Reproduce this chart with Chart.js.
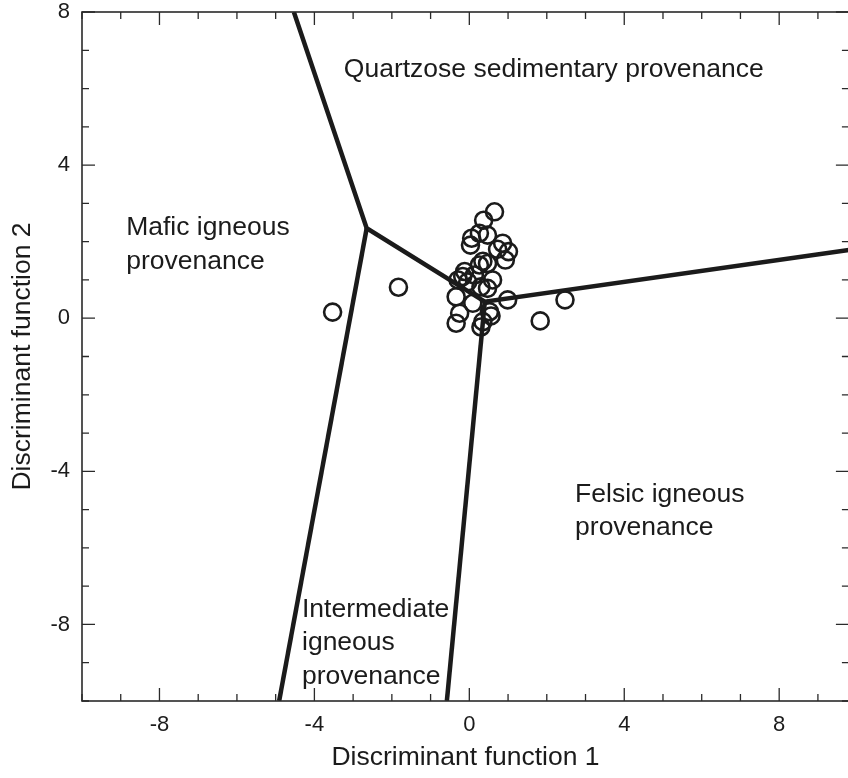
<!DOCTYPE html>
<html>
<head>
<meta charset="utf-8">
<script src="https://cdn.jsdelivr.net/npm/chart.js@4.4.0/dist/chart.umd.min.js"></script>
<style>
  html, body { margin: 0; padding: 0; background: #fff; overflow: hidden; }
  canvas { display: block; }
</style>
</head>
<body>
<canvas id="chart" width="860" height="778"></canvas>
<script>
// sample scores on discriminant functions 1 and 2
const df1 = [-3.53, -1.83, 1.83, 2.47, 0.99, 0.65, 0.37, 0.06, 0.47, 0.26, 0.03, 0.86,
             0.73, 1.01, 0.93, 0.35, 0.26, -0.12, -0.17, 0.13, 0.60, -0.04, 0.47, 0.30,
             -0.34, 0.09, 0.52, -0.25, -0.34, 0.35, 0.30, 0.56, -0.29, 0.47];
const df2 = [0.16, 0.81, -0.07, 0.48, 0.48, 2.78, 2.56, 2.09, 2.17, 2.22, 1.91, 1.96,
             1.80, 1.74, 1.52, 1.49, 1.39, 1.22, 1.09, 1.13, 1.00, 0.95, 0.78, 0.82,
             0.56, 0.39, 0.17, 0.13, -0.13, -0.09, -0.23, 0.06, 1.00, 1.43];

// provenance field boundaries (df1, df2 vertices)
const boundaryMain = [[-4.53, 8], [-2.65, 2.35], [0.40, 0.43], [9.8, 1.78]];
const boundaryMafic = [[-2.65, 2.35], [-4.91, -10]];
const boundaryFelsic = [[0.40, 0.43], [-0.58, -10]];

const xTicks = [-8, -4, 0, 4, 8];
const yTicks = [-8, -4, 0, 4, 8];

const fieldNames = [
  ['Quartzose sedimentary provenance'],
  ['Mafic igneous', 'provenance'],
  ['Felsic igneous', 'provenance'],
  ['Intermediate', 'igneous', 'provenance']
];

const ink = '#1b1b1b';
const FONT = "'Liberation Sans', Arial, sans-serif";

const toXY = pts => pts.map(p => ({ x: p[0], y: p[1] }));

// where each field name goes: left edge and middle of first line, in data units
const labelAnchors = [[-3.24, 6.48], [-8.86, 2.36], [2.73, -4.61], [-4.32, -7.61]];

const fieldLabels = {
  id: 'fieldLabels',
  afterDatasetsDraw(chart) {
    const { ctx, scales: { x, y } } = chart;
    ctx.save();
    ctx.font = '26.5px ' + FONT;
    ctx.fillStyle = ink;
    ctx.textAlign = 'left';
    ctx.textBaseline = 'middle';
    fieldNames.forEach((lines, i) => {
      const px = x.getPixelForValue(labelAnchors[i][0]);
      const py = y.getPixelForValue(labelAnchors[i][1]);
      lines.forEach((t, j) => ctx.fillText(t, px, py + j * 33.5));
    });
    ctx.restore();
  }
};

// box round the plot with inward ticks, long ones every 4 units
const frameTicks = {
  id: 'frameTicks',
  afterDraw(chart) {
    const { ctx, chartArea: a, scales: { x, y } } = chart;
    ctx.save();
    ctx.strokeStyle = '#2a2a2a';
    ctx.lineWidth = 1.6;
    ctx.strokeRect(a.left, a.top, a.right - a.left, a.bottom - a.top);
    ctx.lineWidth = 1.3;
    ctx.beginPath();
    for (let v = Math.ceil(x.min); v <= x.max; v++) {
      const p = x.getPixelForValue(v);
      const len = v % 4 === 0 ? 13 : 7;
      ctx.moveTo(p, a.bottom); ctx.lineTo(p, a.bottom - len);
      ctx.moveTo(p, a.top); ctx.lineTo(p, a.top + len);
    }
    for (let v = Math.ceil(y.min); v <= y.max; v++) {
      const p = y.getPixelForValue(v);
      const len = v % 4 === 0 ? 13 : 7;
      ctx.moveTo(a.left, p); ctx.lineTo(a.left + len, p);
      ctx.moveTo(a.right, p); ctx.lineTo(a.right - len, p);
    }
    ctx.stroke();
    ctx.restore();
  }
};

const boundaryStyle = {
  showLine: true,
  borderColor: ink,
  borderWidth: 4.5,
  pointRadius: 0,
  tension: 0,
  fill: false
};

new Chart(document.getElementById('chart'), {
  type: 'scatter',
  data: {
    datasets: [
      { data: toXY(boundaryMain), ...boundaryStyle },
      { data: toXY(boundaryMafic), ...boundaryStyle },
      { data: toXY(boundaryFelsic), ...boundaryStyle },
      {
        data: df1.map((v, i) => ({ x: v, y: df2[i] })),
        pointStyle: 'circle',
        pointRadius: 8.5,
        borderWidth: 2.6,
        borderColor: ink,
        backgroundColor: 'rgba(0,0,0,0)'
      }
    ]
  },
  options: {
    responsive: false,
    animation: false,
    layout: { padding: { top: 12, right: 7, left: 0, bottom: 0 } },
    plugins: { legend: { display: false }, tooltip: { enabled: false } },
    scales: {
      x: {
        type: 'linear',
        min: -10,
        max: 9.8,
        afterBuildTicks: s => { s.ticks = xTicks.map(v => ({ value: v })); },
        afterFit: s => { s.height = 77; s.paddingLeft = 0; s.paddingRight = 0; },
        grid: { display: false, drawTicks: false, tickLength: 0 },
        border: { display: false },
        ticks: { color: ink, padding: 11, maxRotation: 0, font: { family: FONT, size: 22 } },
        title: {
          display: true,
          text: 'Discriminant function 1',
          color: ink,
          padding: { top: 0, bottom: 4.5 },
          font: { family: FONT, size: 26.5 }
        }
      },
      y: {
        type: 'linear',
        min: -10,
        max: 8,
        afterBuildTicks: s => { s.ticks = yTicks.map(v => ({ value: v })); },
        afterFit: s => { s.width = 82; s.paddingTop = 0; s.paddingBottom = 0; },
        grid: { display: false, drawTicks: false, tickLength: 0 },
        border: { display: false },
        ticks: { color: ink, padding: 12, font: { family: FONT, size: 22 } },
        title: {
          display: true,
          text: 'Discriminant function 2',
          color: ink,
          padding: { top: 6.5, bottom: 0 },
          font: { family: FONT, size: 26.5 }
        }
      }
    }
  },
  plugins: [fieldLabels, frameTicks]
});
</script>
</body>
</html>
